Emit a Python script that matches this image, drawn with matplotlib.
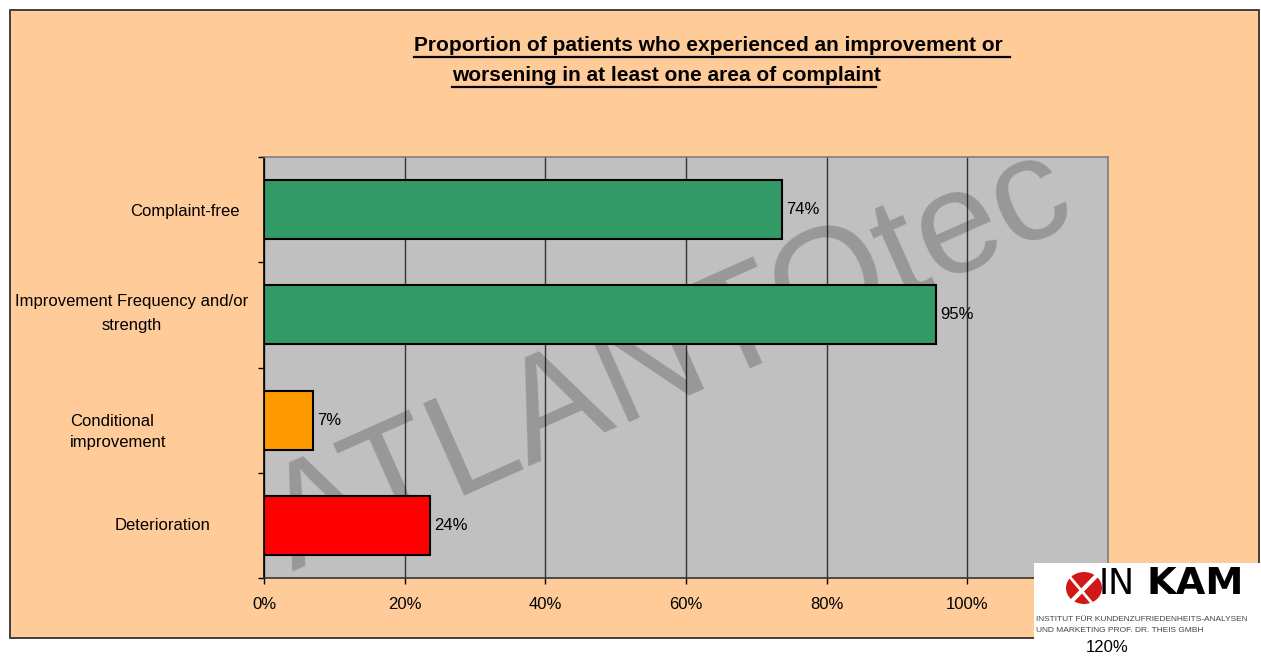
import matplotlib
matplotlib.use('Agg')
import matplotlib.pyplot as plt
from matplotlib.patches import Rectangle, Ellipse
from matplotlib.lines import Line2D
import matplotlib.transforms as mtransforms

# ---------------- data ----------------
categories = ["Complaint-free",
              "Improvement Frequency and/or\nstrength",
              "Conditional\nimprovement",
              "Deterioration"]
values = [0.737, 0.955, 0.070, 0.236]
value_labels = ["74%", "95%", "7%", "24%"]
bar_colors = ["#339966", "#339966", "#FF9900", "#FF0000"]
x_ticks = [0, 0.2, 0.4, 0.6, 0.8, 1.0, 1.2]
x_tick_labels = ["0%", "20%", "40%", "60%", "80%", "100%", "120%"]
title_lines = ["Proportion of patients who experienced an improvement or ",
               "worsening in at least one area of complaint"]
watermark = "ATLANTOtec"
logo_lines = ["INSTITUT FÜR KUNDENZUFRIEDENHEITS-ANALYSEN",
              "UND MARKETING PROF. DR. THEIS GMBH"]

# ---------------- figure ----------------
W, H = 1261, 657
plt.rcParams['font.family'] = ['Liberation Sans', 'DejaVu Sans']
fig = plt.figure(figsize=(W / 100, H / 100), dpi=100)
fig.patch.set_facecolor('white')


def fx(px):
    return px / W


def fy(py):
    return 1 - py / H


# outer chart frame
frame = Rectangle((fx(10), fy(638)), fx(1259) - fx(10), fy(10) - fy(638),
                  transform=fig.transFigure, facecolor='#FFCC99',
                  edgecolor='#333333', linewidth=1.3, zorder=-10)
fig.add_artist(frame)

# plot area
ax = fig.add_axes([fx(264), fy(578), fx(1108) - fx(264), fy(157) - fy(578)])
ax.set_facecolor('#C0C0C0')
ypos = list(range(len(categories)))
ax.barh(ypos, values, height=0.56, color=bar_colors, edgecolor='black',
        linewidth=1.5, zorder=3)
ax.set_xlim(0, 1.2)
ax.set_ylim(len(categories) - 0.5, -0.5)

# the last tick label sits under the logo box; it is shown below the box
ax.set_xticks(x_ticks)
ax.set_xticklabels(x_tick_labels[:-1] + [""], fontsize=12)
ax.set_yticks([i - 0.5 for i in range(len(categories) + 1)])
ax.set_yticklabels([])
ax.tick_params(axis='both', direction='out', length=4, width=1, color='black')
ax.tick_params(axis='x', pad=10)
ax.xaxis.grid(True, color='#333333', linewidth=1)
ax.set_axisbelow(True)

ax.spines['left'].set_color('black')
ax.spines['bottom'].set_color('#333333')
ax.spines['top'].set_color('#808080')
ax.spines['right'].set_color('#808080')
for s in ax.spines.values():
    s.set_linewidth(1.2)

# category labels
label_x = [185, 132, 70, 163]
label_dy = [-2, 1, -12, 0]          # pixel nudges (negative = down)
label_ls = [1.45, 1.75, 1.45, 1.45]
label_ha = ['center', 'center', 'left', 'center']
blend = mtransforms.blended_transform_factory(fig.transFigure, ax.transData)
for i, lab in enumerate(categories):
    tr = blend + mtransforms.Affine2D().translate(0, label_dy[i])
    ax.text(fx(label_x[i]), i, lab, transform=tr, ha=label_ha[i],
            multialignment=label_ha[i], va='center', fontsize=12,
            linespacing=label_ls[i], clip_on=False)

# value labels
for i, (v, lab) in enumerate(zip(values, value_labels)):
    ax.annotate(lab, xy=(v, i), xytext=(3, 0), textcoords='offset points',
                ha='left', va='center', fontsize=12, zorder=5)

# watermark (clipped to the plot area, under the bars)
wm = ax.text(fx(292), fy(572), watermark, transform=fig.transFigure,
             rotation=24, rotation_mode='anchor', ha='left', va='baseline',
             fontsize=106, color='black', alpha=0.21, zorder=2, clip_on=True)
wm.set_clip_path(ax.patch)

# title with underline
fig.text(fx(414), fy(51), title_lines[0], fontsize=15, fontweight='bold',
         ha='left', va='baseline')
fig.text(fx(452), fy(81), title_lines[1], fontsize=15, fontweight='bold',
         ha='left', va='baseline')
fig.add_artist(Line2D([fx(414), fx(1010)], [fy(57), fy(57)],
                      transform=fig.transFigure, color='black', linewidth=1.6))
fig.add_artist(Line2D([fx(452), fx(876)], [fy(87), fy(87)],
                      transform=fig.transFigure, color='black', linewidth=1.6))

# logo box (INKAM)
logo = Rectangle((fx(1034), fy(640)), fx(1261) - fx(1034), fy(563) - fy(640),
                 transform=fig.transFigure, facecolor='white',
                 edgecolor='none', zorder=10)
fig.add_artist(logo)
fig.add_artist(Ellipse((fx(1084), fy(588)), fx(36), 32 / H,
                       transform=fig.transFigure, facecolor='#D01818',
                       edgecolor='none', zorder=11))
fig.add_artist(Line2D([fx(1101), fx(1067)], [fy(571), fy(606)],
                      transform=fig.transFigure, color='white',
                      linewidth=3, zorder=12))
fig.add_artist(Line2D([fx(1069), fx(1091)], [fy(576), fy(602)],
                      transform=fig.transFigure, color='white',
                      linewidth=2, zorder=12))
fig.text(fx(1099), fy(594), "IN", fontsize=25, family='DejaVu Sans',
         fontweight='normal', ha='left', va='baseline', zorder=12)
fig.text(fx(1146), fy(594), "KAM", fontsize=27.5, family='DejaVu Sans',
         fontweight='bold', ha='left', va='baseline', zorder=12)
fig.text(fx(1036), fy(621), logo_lines[0], fontsize=6.0, color='#444444',
         ha='left', va='baseline', zorder=12)
fig.text(fx(1036), fy(632), logo_lines[1], fontsize=6.0, color='#444444',
         ha='left', va='baseline', zorder=12)
fig.text(fx(1107), fy(648), x_tick_labels[-1], fontsize=12, ha='center',
         va='center', zorder=12)

fig.savefig('out.png', dpi=100, facecolor=fig.get_facecolor())
